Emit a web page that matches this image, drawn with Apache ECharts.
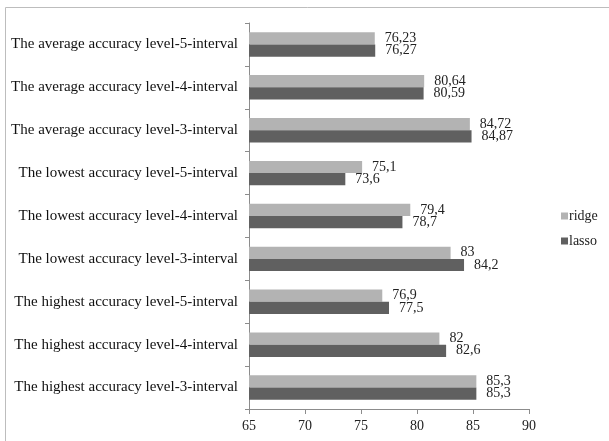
<!DOCTYPE html>
<html lang="en">
  <head>
    <meta charset="UTF-8" />
    <title>ridge vs lasso accuracy</title>
    <script src="https://cdn.jsdelivr.net/npm/echarts@6/dist/echarts.min.js"></script>
    <style>
      html, body { margin: 0; padding: 0; background: #fff; }
    </style>
  </head>
  <body>
    <div id="main" style="width: 609px; height: 441px"></div>
    <script>
      // categories, bottom to top (as on the y axis)
      var categories = [
        'The highest accuracy level-3-interval',
        'The highest accuracy level-4-interval',
        'The highest accuracy level-5-interval',
        'The lowest accuracy level-3-interval',
        'The lowest accuracy level-4-interval',
        'The lowest accuracy level-5-interval',
        'The average accuracy level-3-interval',
        'The average accuracy level-4-interval',
        'The average accuracy level-5-interval'
      ];
      var ridge = [85.3, 82, 76.9, 83, 79.4, 75.1, 84.72, 80.64, 76.23];
      var lasso = [85.3, 82.6, 77.5, 84.2, 78.7, 73.6, 84.87, 80.59, 76.27];
      var xTicks = [65, 70, 75, 80, 85, 90];

      var font = '"Liberation Serif", "Times New Roman", serif';

      // comma as decimal separator, like the original
      function comma(p) {
        return String(p.value).replace('.', ',');
      }

      var mCharts = echarts.init(document.getElementById('main'));
      var option = {
        animation: false,
        textStyle: { fontFamily: font },
        graphic: [
          {
            type: 'rect',
            shape: { x: 5.5, y: 7.5, width: 640, height: 460 },
            style: { fill: null, stroke: '#bdbdbd', lineWidth: 1 },
            silent: true
          }
        ],
        legend: {
          orient: 'vertical',
          left: 556,
          top: 204,
          itemWidth: 7,
          itemHeight: 7,
          itemGap: 11,
          icon: 'rect',
          textStyle: { fontFamily: font, fontSize: 14, color: '#222', padding: [0, 0, 0, -4] },
          data: ['ridge', 'lasso']
        },
        grid: { left: 249, right: 80, top: 23, bottom: 32 },
        xAxis: {
          type: 'value',
          min: xTicks[0],
          max: xTicks[xTicks.length - 1],
          interval: 5,
          axisLine: { show: true, lineStyle: { color: '#8c8c8c' } },
          axisTick: { show: true, length: 5, lineStyle: { color: '#8c8c8c' } },
          axisLabel: { fontFamily: font, fontSize: 14, color: '#222', margin: 10 },
          splitLine: { show: false }
        },
        yAxis: {
          type: 'category',
          data: categories,
          axisLine: { lineStyle: { color: '#8c8c8c' } },
          axisTick: { show: true, length: 4, lineStyle: { color: '#8c8c8c' } },
          axisLabel: { fontFamily: font, fontSize: 15, color: '#111', margin: 11 }
        },
        series: [
          {
            name: 'ridge',
            type: 'bar',
            data: ridge,
            barGap: '0%',
            barCategoryGap: '43%',
            itemStyle: { color: '#b3b3b3' },
            label: {
              show: true,
              position: 'right',
              distance: 10,
              formatter: comma,
              fontFamily: font,
              fontSize: 14,
              color: '#222'
            }
          },
          {
            name: 'lasso',
            type: 'bar',
            data: lasso,
            barGap: '0%',
            barCategoryGap: '43%',
            itemStyle: { color: '#606060' },
            label: {
              show: true,
              position: 'right',
              distance: 10,
              formatter: comma,
              fontFamily: font,
              fontSize: 14,
              color: '#222'
            }
          }
        ]
      };
      mCharts.setOption(option);
    </script>
  </body>
</html>
